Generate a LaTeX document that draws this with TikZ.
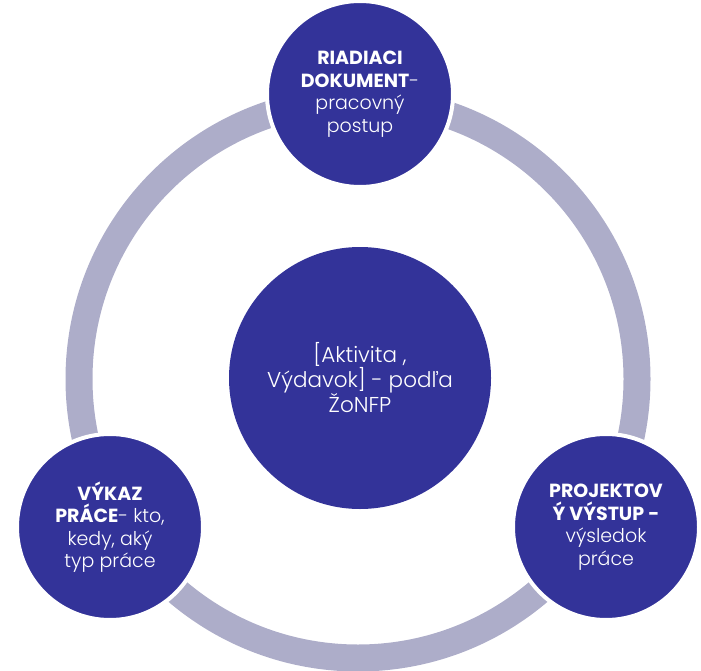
\documentclass[tikz,border=0pt]{standalone}
\usepackage{fontspec}
\setmainfont{Poppins}[UprightFont={* Light}, BoldFont={* Bold}]
\definecolor{cdark}{RGB}{51,51,153}
\definecolor{cring}{RGB}{173,173,201}
\begin{document}
\begin{tikzpicture}[x=1pt,y=-1pt]
\useasboundingbox (0,0) rectangle (701,671);
\tikzset{
  bub/.style={circle, fill=cdark, draw=white, line width=4pt, minimum size=186pt, inner sep=0pt, text=white, align=center, font=\fontsize{19}{22.5}\selectfont},
  hub/.style={circle, fill=cdark, minimum size=262pt, inner sep=0pt, text=white, align=center, font=\fontsize{21.5}{25}\selectfont},
  ringline/.style={cring, line width=27pt}
}
\coordinate (O) at (358,379);
\draw[ringline] (O) circle[radius=279pt];
\node[hub] (center) at (360,378) {[Aktivita ,\\ Výdavok] - podľa\\ ŽoNFP};
\node[bub] (top) at (360,94) {\textbf{RIADIACI}\\ \textbf{DOKUMENT}-\\ pracovný\\ postup};
\node[bub] (left) at (110,527) {\textbf{VÝKAZ}\\ \textbf{PRÁCE}- kto,\\ kedy, aký\\ typ práce};
\node[bub] (right) at (606,527) {\textbf{PROJEKTOV}\\ \textbf{Ý VÝSTUP -}\\ výsledok\\ práce};
\end{tikzpicture}
\end{document}
